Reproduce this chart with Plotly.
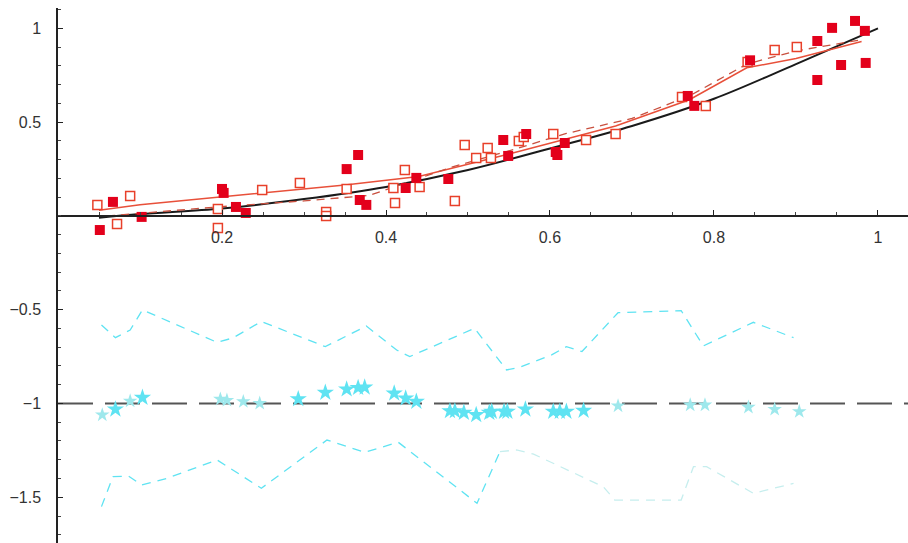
import plotly.graph_objects as go

# ---------------- data ----------------
filled_x = [0.051, 0.067, 0.102, 0.200, 0.202, 0.217, 0.229, 0.352, 0.366, 0.368,
            0.376, 0.424, 0.437, 0.476, 0.543, 0.549, 0.571, 0.609, 0.607, 0.618,
            0.768, 0.776, 0.844, 0.926, 0.926, 0.944, 0.955, 0.972, 0.984, 0.985]
filled_y = [-0.075, 0.075, -0.005, 0.144, 0.123, 0.048, 0.016, 0.250, 0.325, 0.085,
            0.059, 0.149, 0.203, 0.197, 0.405, 0.320, 0.437, 0.325, 0.341, 0.389,
            0.640, 0.587, 0.830, 0.725, 0.933, 1.003, 0.805, 1.040, 0.987, 0.816]

open_x = [0.048, 0.072, 0.088, 0.195, 0.195, 0.249, 0.295, 0.327, 0.327, 0.352,
          0.409, 0.411, 0.423, 0.441, 0.484, 0.496, 0.510, 0.524, 0.528, 0.562,
          0.568, 0.604, 0.644, 0.680, 0.761, 0.790, 0.841, 0.874, 0.901]
open_y = [0.059, -0.043, 0.107, -0.064, 0.037, 0.139, 0.176, 0.021, 0.000, 0.144,
          0.149, 0.069, 0.245, 0.155, 0.080, 0.379, 0.309, 0.363, 0.309, 0.400,
          0.421, 0.437, 0.405, 0.437, 0.635, 0.587, 0.821, 0.885, 0.901]

curve_x = [0.05, 0.10, 0.20, 0.30, 0.40, 0.50, 0.60, 0.70, 0.80, 0.90, 1.00]
curve_y = [-0.01, 0.01, 0.04, 0.09, 0.155, 0.245, 0.36, 0.48, 0.625, 0.81, 1.00]

red_x = [0.05, 0.10, 0.35, 0.44, 0.55, 0.62, 0.68, 0.77, 0.84, 0.90, 0.98]
red_y = [0.03, 0.06, 0.165, 0.21, 0.33, 0.41, 0.48, 0.62, 0.79, 0.84, 0.93]

reddash_x = [0.06, 0.20, 0.30, 0.38, 0.48, 0.56, 0.62, 0.70, 0.77, 0.84, 0.90, 0.98]
reddash_y = [0.00, 0.05, 0.08, 0.11, 0.26, 0.36, 0.44, 0.52, 0.64, 0.81, 0.88, 0.94]

upper_x = [0.053, 0.070, 0.088, 0.103, 0.194, 0.213, 0.248, 0.326, 0.376, 0.413,
           0.429, 0.508, 0.547, 0.563, 0.602, 0.620, 0.639, 0.683, 0.760, 0.787,
           0.848, 0.897]
upper_y = [-0.581, -0.649, -0.608, -0.501, -0.674, -0.651, -0.563, -0.697, -0.587, -0.715,
           -0.750, -0.599, -0.821, -0.807, -0.741, -0.697, -0.723, -0.516, -0.505, -0.693,
           -0.567, -0.649]

lower_x = [0.053, 0.067, 0.086, 0.102, 0.133, 0.194, 0.248, 0.328, 0.374, 0.415,
           0.511, 0.539]
lower_y = [-1.550, -1.390, -1.387, -1.435, -1.399, -1.301, -1.452, -1.195, -1.260, -1.207,
           -1.532, -1.257]

lower_pale_x = [0.539, 0.559, 0.580, 0.665, 0.679, 0.760, 0.775, 0.791, 0.848, 0.897]
lower_pale_y = [-1.257, -1.248, -1.270, -1.444, -1.515, -1.515, -1.337, -1.337, -1.479, -1.426]

stars_x = [0.070, 0.103, 0.293, 0.326, 0.352, 0.366, 0.374, 0.410, 0.424, 0.437,
           0.478, 0.484, 0.495, 0.510, 0.526, 0.529, 0.544, 0.548, 0.570, 0.604,
           0.612, 0.620, 0.641]
stars_y = [-1.031, -0.969, -0.976, -0.942, -0.924, -0.916, -0.914, -0.946, -0.972, -0.990,
           -1.040, -1.040, -1.049, -1.061, -1.049, -1.043, -1.043, -1.043, -1.031, -1.043,
           -1.043, -1.043, -1.038]

stars_pale_x = [0.054, 0.088, 0.198, 0.206, 0.226, 0.246, 0.683, 0.771, 0.789, 0.842,
                0.874, 0.904]
stars_pale_y = [-1.061, -0.987, -0.977, -0.983, -0.990, -0.999, -1.013, -1.008, -1.008, -1.020,
                -1.031, -1.043]

ref_x = [0.0, 1.04]
ref_y = [-1.0, -1.0]

x_ticks = [0.2, 0.4, 0.6, 0.8, 1.0]
x_ticktext = ["0.2", "0.4", "0.6", "0.8", "1"]
y_ticks = [-1.5, -1.0, -0.5, 0.5, 1.0]
y_ticktext = ["\u22121.5", "\u22121", "\u22120.5", "0.5", "1"]

# ---------------- figure ----------------
RED = "#e3001b"
CYAN = "#5fe3f2"

fig = go.Figure()

fig.add_trace(go.Scatter(x=ref_x, y=ref_y, mode="lines",
                         line=dict(color="#555555", width=2, dash="35px,12px")))
fig.add_trace(go.Scatter(x=upper_x, y=upper_y, mode="lines",
                         line=dict(color=CYAN, width=1.3, dash="9px,7px")))
fig.add_trace(go.Scatter(x=lower_x, y=lower_y, mode="lines",
                         line=dict(color=CYAN, width=1.3, dash="9px,7px")))
fig.add_trace(go.Scatter(x=lower_pale_x, y=lower_pale_y, mode="lines",
                         line=dict(color="#c6eeee", width=1.3, dash="9px,7px")))
fig.add_trace(go.Scatter(x=stars_pale_x, y=stars_pale_y, mode="markers",
                         marker=dict(symbol="star", size=11, color="#9ee8ec", line=dict(width=0))))
fig.add_trace(go.Scatter(x=stars_x, y=stars_y, mode="markers",
                         marker=dict(symbol="star", size=13, color=CYAN, line=dict(width=0))))

fig.add_trace(go.Scatter(x=curve_x, y=curve_y, mode="lines", line_shape="spline",
                         line=dict(color="#1a1a1a", width=2)))
fig.add_trace(go.Scatter(x=red_x, y=red_y, mode="lines",
                         line=dict(color="#e8503a", width=1.5)))
fig.add_trace(go.Scatter(x=reddash_x, y=reddash_y, mode="lines",
                         line=dict(color="#c9503f", width=1.3, dash="8px,6px")))

fig.add_trace(go.Scatter(x=open_x, y=open_y, mode="markers",
                         marker=dict(symbol="square", size=9, color="white",
                                     line=dict(color="#e8402a", width=1.5))))
fig.add_trace(go.Scatter(x=filled_x, y=filled_y, mode="markers",
                         marker=dict(symbol="square", size=10, color=RED,
                                     line=dict(width=0))))

ymin, ymax = -1.744, 1.109
fig.update_layout(
    width=908, height=543,
    margin=dict(l=58, r=0, t=8, b=0, autoexpand=False),
    paper_bgcolor="white", plot_bgcolor="white",
    showlegend=False,
    font=dict(family="Liberation Sans, Arial, sans-serif", size=16, color="#333333"),
    xaxis=dict(range=[0, 1.0366], anchor="free", position=(0 - ymin) / (ymax - ymin),
               automargin=False,
               showline=True, linecolor="#222222", linewidth=1.5,
               showgrid=False, zeroline=False,
               tickmode="array", tickvals=x_ticks, ticktext=x_ticktext,
               ticks="inside", ticklen=5, tickcolor="#222222", ticklabelstandoff=7,
               minor=dict(tickmode="linear", tick0=0, dtick=0.05, ticks="inside",
                          ticklen=3, tickcolor="#444444", showgrid=False)),
    yaxis=dict(range=[ymin, ymax], automargin=False,
               showline=True, linecolor="#222222", linewidth=1.5,
               showgrid=False, zeroline=False,
               tickmode="array", tickvals=y_ticks, ticktext=y_ticktext,
               ticks="inside", ticklen=5, tickcolor="#222222", ticklabelstandoff=12,
               minor=dict(tickmode="linear", tick0=0, dtick=0.1, ticks="inside",
                          ticklen=3, tickcolor="#444444", showgrid=False)),
)

fig.write_html("out.html", config={"displayModeBar": False},
               post_script="document.body.style.margin='0';document.body.style.padding='0';")
